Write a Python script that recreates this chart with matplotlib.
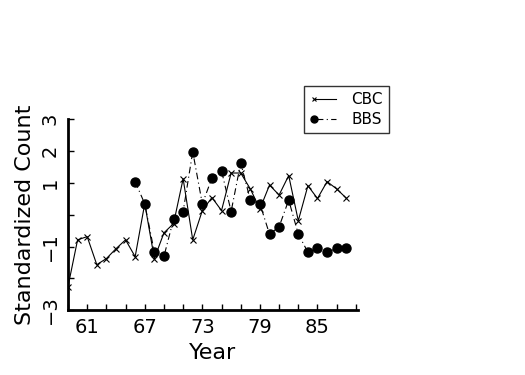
import matplotlib
matplotlib.use("Agg")
import matplotlib.pyplot as plt
from matplotlib.lines import Line2D
from matplotlib.legend_handler import HandlerLine2D

# data
cbc_years = list(range(59, 89))
cbc = [-2.26, -0.79, -0.69, -1.57, -1.38, -1.07, -0.79, -1.32, 0.35, -1.38,
       -0.57, -0.28, 1.13, -0.79, 0.13, 0.54, 0.13, 1.31, 1.31, 0.81,
       0.18, 0.93, 0.62, 1.23, -0.19, 0.91, 0.51, 1.04, 0.81, 0.52]
bbs_years = list(range(66, 89))
bbs = [1.04, 0.34, -1.18, -1.31, -0.14, 0.10, 1.98, 0.34, 1.15, 1.38,
       0.10, 1.63, 0.46, 0.34, -0.61, -0.38, 0.46, -0.61, -1.18, -1.06,
       -1.18, -1.06, -1.06]
xticks = list(range(59, 90, 2))
xlabels = ['' if t not in (61, 67, 73, 79, 85) else str(t) for t in xticks]
yticks = [-3, -2, -1, 0, 1, 2, 3]
ylabels = ['\u22123', '', '\u22121', '', '1', '2', '3']


class FirstMarkerHandler(HandlerLine2D):
    # legend sample with the marker only at the left end
    def create_artists(self, *args, **kwargs):
        arts = super().create_artists(*args, **kwargs)
        for a in arts:
            a.set_markevery([0])
        return arts


fig = plt.figure(figsize=(5.25, 3.75), dpi=100)
ax = fig.add_axes([0.1295, 0.173, 0.552, 0.509])

ax.plot(cbc_years, cbc, color='black', lw=0.8, marker='x', ms=4, mew=0.8)
ax.plot(bbs_years, bbs, color='black', lw=0.8, linestyle=(0, (6, 3, 1, 3)),
        marker='o', ms=6.5)

ax.set_xlim(59, 89.2)
ax.set_ylim(-3, 3)
ax.spines['top'].set_visible(False)
ax.spines['right'].set_visible(False)
ax.spines['left'].set_linewidth(2)
ax.spines['bottom'].set_linewidth(2)
ax.set_xticks(xticks)
ax.set_xticklabels(xlabels, fontsize=14)
ax.set_yticks(yticks)
ax.set_yticklabels(ylabels, fontsize=14, rotation=90, va='center')
ax.tick_params(axis='both', which='major', direction='in', length=4, width=1, pad=6)
ax.set_xlabel('Year', fontsize=16, labelpad=4)
ax.set_ylabel('Standardized Count', fontsize=16, labelpad=4)

h1 = Line2D([], [], color='black', lw=0.8, marker='x', ms=3, mew=0.8)
h2 = Line2D([], [], color='black', lw=0.8, linestyle=(0, (8, 3, 1, 3)),
            marker='o', ms=5)
leg = fig.legend([h1, h2], ['CBC', 'BBS'], loc='upper left',
                 bbox_to_anchor=(0.564, 0.79), fontsize=11, numpoints=2,
                 handler_map={Line2D: FirstMarkerHandler(numpoints=2)},
                 fancybox=False, frameon=True, handlelength=2.0,
                 borderpad=0.4, labelspacing=0.3, handletextpad=0.7)
leg.get_frame().set_edgecolor('black')
leg.get_frame().set_linewidth(1)

fig.savefig('out.png', dpi=100)
